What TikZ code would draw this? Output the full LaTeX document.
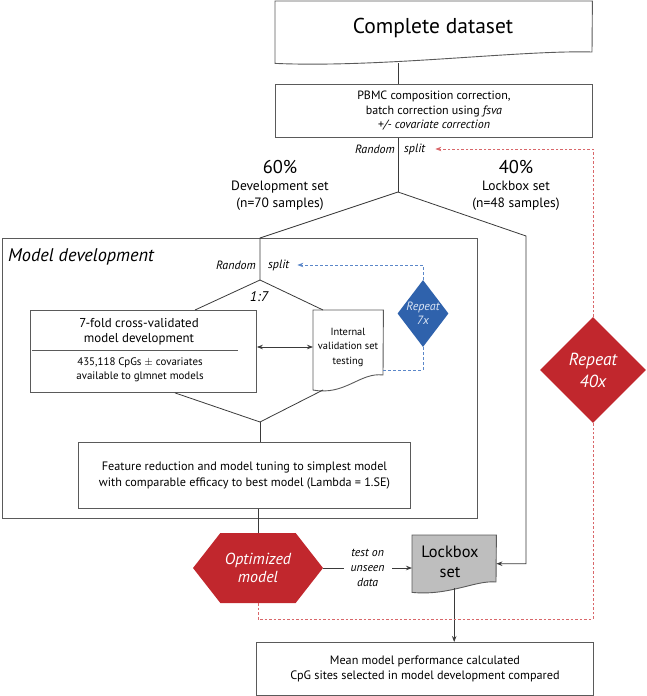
\documentclass[tikz,border=0pt]{standalone}
\usepackage{fontspec}
\setmainfont{PT Sans}
\usetikzlibrary{shapes.geometric,shapes.symbols,arrows.meta,calc}
\definecolor{dred}{HTML}{C1272D}
\definecolor{dblue}{HTML}{2F62AC}
\definecolor{lred}{HTML}{D9676A}
\definecolor{lblue}{HTML}{5B87C9}
\definecolor{lnc}{HTML}{3A3A3A}
\definecolor{bxc}{HTML}{5A5A5A}
\definecolor{lgray}{HTML}{BEBEBE}
\definecolor{ltxt}{HTML}{DCE6F5}
\begin{document}
\begin{tikzpicture}[x=1pt,y=-1pt,
  box/.style={draw=bxc, line width=0.9pt, rectangle, inner sep=0pt, align=center},
  ghost/.style={rectangle, inner sep=0pt, anchor=north west},
  docline/.style={draw=bxc, line width=0.9pt},
  conn/.style={draw=lnc, line width=0.8pt},
  tip/.style={-{Stealth[length=6pt,width=4.5pt]}},
  arr/.style={conn, tip},
  reddash/.style={draw=lred, line width=0.8pt, dash pattern=on 2.5pt off 2pt},
  bluedash/.style={draw=lblue, line width=0.8pt, dash pattern=on 3pt off 2pt},
  lbl/.style={font=\fontsize{12}{13}\selectfont\itshape, inner sep=0pt},
]
\useasboundingbox (0,0) rectangle (647,696);

% ---------- Complete dataset ----------
\node[ghost, minimum width=317pt, minimum height=62pt] (cd) at (275,1) {};
\draw[docline, fill=white] (cd.north west) -- (cd.north east) -- (592,52)
  .. controls (520,50) and (380,68) .. (cd.south west) -- cycle;
\node[font=\fontsize{21.5}{24}\selectfont] (cdtxt) at (433,28) {Complete dataset};

% ---------- correction box ----------
\node[box, anchor=north west, minimum width=317pt, minimum height=53pt,
  font=\fontsize{12}{14.5}\selectfont] (corr) at (275,84)
  {PBMC composition correction,\\ batch correction using \textit{fsva}\\ \textit{+/- covariate correction}};

\coordinate (s1) at (398,192);
\draw[conn] (cd.south -| s1) -- (corr.north -| s1);
\draw[conn] (corr.south -| s1) -- (s1);
\node[lbl, anchor=east] (rand1) at (395,149) {Random};
\node[lbl, anchor=west] (split1) at (404,149) {split};

% ---------- set labels ----------
\node[align=center, font=\fontsize{13.5}{17}\selectfont] (dev) at (280,185)
  {{\fontsize{18.5}{17}\selectfont 60\%}\\Development set\\(n=70 samples)};
\node[align=center, font=\fontsize{13.5}{17}\selectfont] (lbs) at (516,185)
  {{\fontsize{18.5}{17}\selectfont 40\%}\\Lockbox set\\(n=48 samples)};

% ---------- Model development frame ----------
\node[box, anchor=north west, minimum width=475pt, minimum height=280pt] (md) at (2,238) {};
\node[font=\fontsize{18.3}{20}\selectfont\itshape, anchor=west, inner sep=0pt] (mdtxt) at (8,257) {Model development};

\coordinate (s2) at (260,280);
\draw[conn] (s1) -- (md.north -| s2) -- (s2);
\node[lbl, anchor=east] (rand2) at (256,265) {Random};
\node[lbl, anchor=west] (split2) at (268,265) {split};
\node[lbl, font=\fontsize{14}{15}\selectfont\itshape] (ratio) at (259,297) {1:7};

% cross-validated box
\node[box, anchor=north west, minimum width=226pt, minimum height=82pt] (cv) at (30,310) {};
\node[align=center, font=\fontsize{12.9}{15}\selectfont] (cvtop) at (139,332)
  {7-fold cross-validated\\model development};
\draw[draw=bxc, line width=0.5pt] (32,350) -- (238,350);
\node[align=center, font=\fontsize{10.9}{14}\selectfont] (cvbot) at (140,370)
  {435,118 CpGs $\pm$ covariates\\available to glmnet models};

% internal validation document
\node[ghost, minimum width=70pt, minimum height=80pt] (ivs) at (313,310) {};
\draw[docline, fill=white] (ivs.north west) -- (ivs.north east) -- (383,375)
  .. controls (360,372) and (345,396) .. (313,390) -- cycle;
\node[align=center, font=\fontsize{10.4}{14.5}\selectfont] (ivstxt) at (348,347)
  {Internal\\validation set\\testing};

\draw[conn, {Stealth[length=6pt,width=4.5pt]}-{Stealth[length=6pt,width=4.5pt]}]
  (ivstxt -| cv.east) -- (ivstxt -| ivs.west);

\draw[conn] (s2) -- ($(cv.north west)+(165,0)$);
\draw[conn] (s2) -- ($(ivs.north west)+(10,0)$);

\coordinate (m2) at (260,422);
\draw[conn] ($(cv.south west)+(145,0)$) -- (m2);
\draw[conn] (323,390) -- (m2);

% feature reduction box
\node[box, anchor=north west, minimum width=332pt, minimum height=66pt,
  font=\fontsize{12.2}{15.5}\selectfont] (fr) at (78,442)
  {Feature reduction and model tuning to simplest model\\with comparable efficacy to best model (Lambda = 1.SE)};
\draw[conn] (m2) -- (fr.north -| m2);

% blue repeat diamond
\node[diamond, fill=dblue, minimum width=51pt, minimum height=67pt, shape aspect=0.76,
  inner sep=0pt, text=ltxt, font=\fontsize{12}{14}\selectfont\itshape, align=center] (rep7) at (423,313.5)
  {\makebox[0pt]{Repeat}\\\makebox[0pt]{7x}};
\draw[bluedash] ($(ivs.north east)+(0,60)$) -| (rep7.south);
\draw[bluedash, -{Stealth[length=6pt,width=4.5pt]}] (rep7.north) |- ($(split2.east)+(8,0)$);

% ---------- optimized model ----------
\node[signal, signal to=west and east, signal pointer angle=104, fill=dred, draw=none,
  minimum width=130pt, minimum height=70pt, inner sep=0pt,
  font=\fontsize{16}{18}\selectfont\itshape, text=white, align=center] (hex) at (258,568) {Optimized\\model};
\draw[conn] (fr.south -| hex.north) -- (hex.north);

% ---------- lockbox ----------
\node[ghost, minimum width=84pt, minimum height=57pt] (lock) at (412,535) {};
\draw[docline, fill=lgray] (lock.north west) -- (lock.north east) -- (496,582)
  .. controls (475,580) and (450,596) .. (lock.south west) -- cycle;
\node[align=center, font=\fontsize{16.4}{20}\selectfont] (locktxt) at (450,562) {Lockbox\\set};

\draw[arr] (hex.east) -- node[fill=white, align=center, inner xsep=7pt, inner ysep=1pt,
  font=\fontsize{11.8}{15}\selectfont\itshape] (tst) {test on\\unseen\\data} (hex.east -| lock.west);

\coordinate (rb) at (526,236);
\draw[arr] (s1) -- (rb) |- (lock.east);

% ---------- final box ----------
\node[box, anchor=north west, minimum width=337pt, minimum height=53pt,
  font=\fontsize{12.2}{15}\selectfont] (fin) at (256,642)
  {Mean model performance calculated\\CpG sites selected in model development compared};
\draw[arr] ($(lock.south)+(0,-4)$) -- (fin.north -| lock.south);

% ---------- red repeat loop ----------
\coordinate (rl) at (258,619);
\coordinate (rr) at (593,619);
\draw[reddash] (hex.south) -- (rl) -- (rr) -- (rr |- 0,430);
\node[diamond, fill=dred, minimum width=106pt, minimum height=106pt, inner sep=0pt,
  text=white, font=\fontsize{17.5}{22}\selectfont\itshape, align=center] (rep40) at (593,370) {Repeat\\40x};
\draw[reddash] (rr |- 0,430) -- (rep40.south);
\draw[reddash, -{Stealth[length=6pt,width=4.5pt]}] (rep40.north) |- ($(split1.east)+(10,0)$);
\end{tikzpicture}
\end{document}
